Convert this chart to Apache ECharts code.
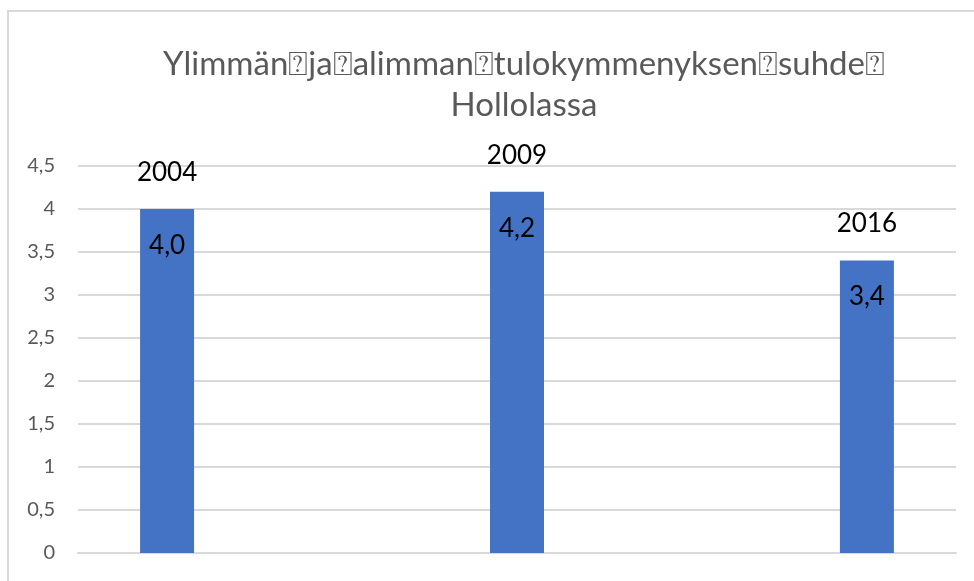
<!DOCTYPE html>
<html>
<head>
<meta charset="utf-8">
<script src="https://cdn.jsdelivr.net/npm/echarts@6/dist/echarts.min.js"></script>
<style>
  html, body { margin: 0; padding: 0; background: #fff; }
  #chart { width: 974px; height: 581px; }
</style>
</head>
<body>
<div id="chart"></div>
<script>
// data
var years = ['2004', '2009', '2016'];
var ratios = [4.0, 4.2, 3.4];
var yTicks = { min: 0, max: 4.5, interval: 0.5 };

var myChart = echarts.init(document.getElementById('chart'));

function fmt(v) {
    return String(v).replace('.', ',');
}

var series = [];
for (var i = 0; i < years.length; i++) {
    series.push({
        name: years[i],
        type: 'bar',
        data: [ratios[i]],
        barWidth: 54,
        barGap: '548%',
        itemStyle: { color: '#4472c4' },
        label: {
            show: true,
            position: 'insideTop',
            distance: 0,
            offset: [0, -73],
            formatter: function(p) {
                return '{y|' + p.seriesName + '}\n{v|' + p.value.toFixed(1).replace('.', ',') + '}';
            },
            rich: {
                y: { fontSize: 26, lineHeight: 73, color: '#000', fontFamily: 'Lato' },
                v: { fontSize: 26, lineHeight: 73, color: '#000', fontFamily: 'Lato' }
            }
        }
    });
}

var option = {
    animation: false,
    title: {
        text: 'Ylimmän\u2370ja\u2370alimman\u2370tulokymmenyksen\u2370suhde\u2370\nHollolassa',
        left: 524,
        textAlign: 'center',
        top: 44,
        padding: 0,
        textStyle: {
            fontFamily: 'Lato',
            fontSize: 33,
            fontWeight: 'normal',
            color: '#595959',
            lineHeight: 41
        }
    },
    graphic: [{
        type: 'rect',
        shape: { x: 8, y: 11, width: 1100, height: 700 },
        style: { fill: 'none', stroke: '#d9d9d9', lineWidth: 2 },
        silent: true
    }],
    grid: {
        left: 78,
        right: 18,
        top: 166,
        bottom: 28
    },
    xAxis: {
        type: 'category',
        data: [''],
        axisLine: { show: true, lineStyle: { color: '#d9d9d9', width: 2 } },
        axisTick: { show: false },
        axisLabel: { show: false }
    },
    yAxis: {
        type: 'value',
        min: yTicks.min,
        max: yTicks.max,
        interval: yTicks.interval,
        axisLine: { show: false },
        axisTick: { show: false },
        axisLabel: {
            margin: 23,
            fontFamily: 'Lato',
            fontSize: 20,
            color: '#595959',
            formatter: function(v) { return fmt(v); }
        },
        splitLine: { lineStyle: { color: '#d9d9d9', width: 2 } }
    },
    series: series
};

myChart.setOption(option);
</script>
</body>
</html>
